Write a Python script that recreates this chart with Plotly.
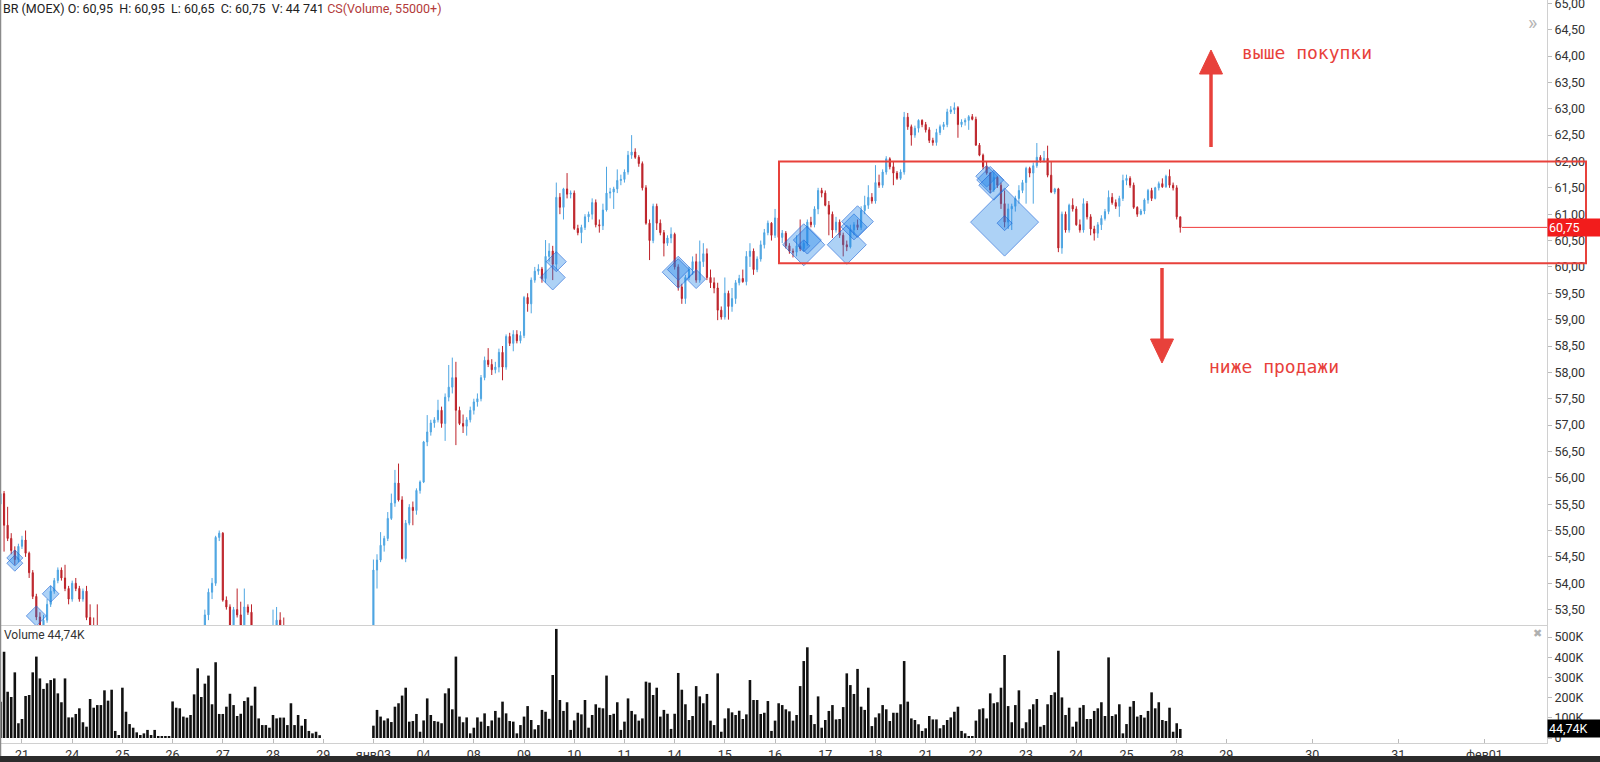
import plotly.graph_objects as go

W, H = 1600, 762

# ---- time axis -------------------------------------------------------------
day_labels = ["21", "24", "25", "26", "27", "28", "29", "янв03", "04", "08", "09", "10",
              "11", "14", "15", "16", "17", "18", "21", "22", "23", "24", "25", "28"]
future_labels = ["29", "30", "31", "фев01"]
future_ticks = [335.8, 359.8, 383.8, 407.8]  # empty future days, as TradingView spaces them

BARS_PER_DAY = 14  # hourly bars 10:00-23:50
# trading sessions: day slot, first hourly bar, number of bars (slot 6 = Dec 29, no bars)
session_slot = [-1, 0, 1, 2, 3, 4, 5, 7, 8, 9, 10, 11, 12, 13, 14, 15, 16, 17, 18, 19, 20, 21, 22, 23]
session_first = [8] + [0] * 23
session_len = [6] + [14] * 22 + [2]

# ---- BR (MOEX) hourly candles ------------------------------------------------
first_open = 55.50
closes = [
    55.70, 55.10, 54.85, 54.62, 54.45, 54.70,  # Dec 20
    54.82, 54.57, 54.20, 53.75, 53.36, 53.15, 53.30, 53.60, 53.85, 54.05, 54.25, 54.10, 53.90, 53.70,  # Dec 21
    54.00, 53.90, 53.70, 53.85, 53.35, 53.20, 53.10, 52.90, 52.60, 52.30, 52.00, 51.70, 51.30, 51.40,  # Dec 24
    51.50, 51.60, 51.40, 51.30, 51.50, 51.60, 51.50, 51.40, 51.50, 51.60, 51.50, 51.60, 51.70, 51.60,  # Dec 25
    51.60, 51.80, 51.70, 51.90, 52.00, 52.20, 52.30, 52.50, 52.90, 53.40, 53.83, 54.00, 54.87, 54.95,  # Dec 26
    53.68, 53.55, 53.20, 53.50, 53.40, 53.20, 53.55, 53.45, 53.10, 52.80, 52.60, 52.50, 52.70, 52.60,  # Dec 27
    53.15, 53.30, 53.00, 52.90, 52.80, 52.90, 52.70, 52.60, 52.80, 52.90, 53.00, 53.05, 53.10, 53.15,  # Dec 28
    54.25, 54.44, 54.72, 54.85, 55.23, 55.52, 55.90, 55.58, 54.47, 55.14, 55.44, 55.38, 55.76, 55.92,  # Jan 03
    56.68, 56.87, 57.04, 57.10, 57.28, 57.03, 57.53, 57.72, 57.90, 57.28, 57.03, 56.98, 57.10, 57.28,  # Jan 04
    57.44, 57.50, 57.90, 58.23, 58.15, 58.05, 58.10, 58.38, 58.10, 58.68, 58.55, 58.72, 58.60, 58.70,  # Jan 08
    59.42, 59.30, 59.75, 59.92, 59.96, 59.78, 60.20, 60.30, 60.05, 61.32, 61.13, 61.48, 61.38, 61.40,  # Jan 09
    60.73, 60.65, 60.75, 60.95, 61.00, 61.22, 60.80, 60.78, 61.08, 61.40, 61.42, 61.48, 61.64, 61.66,  # Jan 10
    61.80, 62.12, 62.18, 62.08, 61.96, 61.50, 60.83, 60.50, 61.15, 60.83, 60.65, 60.45, 60.55, 60.62,  # Jan 11
    60.00, 59.62, 59.40, 59.80, 59.95, 60.10, 59.75, 60.10, 60.25, 59.80, 59.70, 59.60, 59.18, 59.05,  # Jan 14
    59.50, 59.25, 59.40, 59.70, 59.78, 59.72, 60.20, 60.30, 59.95, 60.15, 60.42, 60.65, 60.83, 60.60,  # Jan 15
    60.93, 60.56, 60.64, 60.40, 60.30, 60.28, 60.40, 60.35, 60.45, 60.85, 60.80, 61.10, 61.45, 61.40,  # Jan 16
    61.17, 61.00, 60.70, 60.85, 60.60, 60.42, 60.38, 60.70, 60.80, 60.75, 61.07, 61.17, 61.32, 61.25,  # Jan 17
    61.60, 61.55, 61.80, 62.05, 61.90, 61.78, 61.68, 61.80, 62.84, 62.66, 62.50, 62.63, 62.78, 62.70,  # Jan 18
    62.60, 62.40, 62.36, 62.55, 62.66, 62.70, 62.94, 62.98, 63.02, 62.70, 62.75, 62.78, 62.85, 62.80,  # Jan 21
    62.31, 62.12, 61.90, 61.78, 61.46, 61.70, 61.55, 61.20, 60.85, 61.10, 61.15, 61.30, 61.45, 61.60,  # Jan 22
    61.87, 61.78, 61.92, 62.08, 62.02, 62.06, 61.74, 61.42, 61.48, 60.36, 61.00, 60.70, 61.17, 61.10,  # Jan 23
    60.80, 60.70, 61.20, 60.95, 60.72, 60.64, 60.80, 60.92, 61.05, 61.32, 61.22, 61.15, 61.30, 61.64,  # Jan 24
    61.68, 61.55, 61.13, 61.00, 61.06, 61.27, 61.45, 61.30, 61.50, 61.58, 61.52, 61.72, 61.55, 61.50,  # Jan 25
    60.95, 60.75,  # Jan 28
]
highs = [
    55.80, 55.75, 55.45, 54.95, 54.70, 54.75,
    54.90, 55.00, 54.60, 54.25, 53.80, 53.45, 53.40, 53.70, 53.95, 54.10, 54.30, 54.30, 54.35, 53.95,
    54.05, 54.10, 53.95, 53.90, 53.95, 53.60, 53.35, 53.60, 53.00, 52.70, 52.40, 52.10, 51.80, 51.50,
    51.65, 51.70, 51.65, 51.45, 51.60, 51.70, 51.65, 51.55, 51.60, 51.70, 51.65, 51.70, 51.80, 51.75,
    51.75, 51.95, 51.90, 52.00, 52.10, 52.30, 52.45, 52.65, 53.00, 53.50, 53.90, 54.10, 54.90, 55.00,
    54.97, 53.75, 53.60, 53.55, 53.90, 53.65, 53.90, 53.60, 53.60, 53.20, 52.90, 52.70, 52.80, 52.75,
    53.50, 53.55, 53.45, 53.35, 53.00, 53.05, 52.95, 52.80, 52.90, 53.00, 53.10, 53.15, 53.18, 53.20,
    54.45, 54.55, 54.97, 54.90, 55.35, 55.70, 56.15, 56.27, 55.65, 55.20, 55.50, 55.55, 55.80, 55.95,
    56.70, 57.19, 57.10, 57.15, 57.48, 57.35, 57.60, 58.14, 58.28, 58.20, 57.35, 57.20, 57.15, 57.35,
    57.50, 57.60, 57.95, 58.30, 58.46, 58.25, 58.20, 58.45, 58.50, 58.72, 58.75, 58.80, 58.80, 58.78,
    59.45, 59.50, 59.80, 60.00, 60.05, 60.00, 60.51, 60.45, 60.40, 61.60, 61.40, 61.50, 61.78, 61.45,
    61.45, 60.80, 60.80, 61.00, 61.05, 61.30, 61.28, 60.90, 61.20, 61.90, 61.50, 61.52, 61.85, 61.75,
    61.85, 62.20, 62.50, 62.25, 62.12, 62.00, 61.55, 60.90, 61.20, 61.20, 60.90, 60.70, 60.60, 60.75,
    60.65, 60.05, 59.68, 59.85, 60.00, 60.20, 60.25, 60.50, 60.45, 60.35, 59.95, 59.80, 59.70, 59.25,
    59.80, 59.55, 59.60, 59.75, 59.85, 59.95, 60.30, 60.45, 60.35, 60.20, 60.50, 60.72, 60.88, 60.85,
    61.10, 61.15, 60.70, 60.68, 60.45, 60.35, 60.60, 60.90, 60.50, 60.90, 60.95, 61.15, 61.50, 61.50,
    61.45, 61.25, 61.05, 60.95, 60.90, 60.65, 60.50, 60.80, 60.85, 60.90, 61.15, 61.35, 61.55, 61.40,
    61.93, 61.75, 61.85, 62.10, 62.08, 62.00, 61.82, 61.85, 62.94, 62.92, 62.70, 62.68, 62.80, 62.80,
    62.75, 62.65, 62.45, 62.62, 62.70, 62.75, 63.00, 63.05, 63.12, 63.05, 62.80, 62.82, 62.88, 62.90,
    62.85, 62.35, 62.15, 62.00, 61.80, 61.80, 61.72, 61.60, 61.45, 61.20, 61.20, 61.35, 61.55, 61.65,
    61.90, 61.90, 61.98, 62.35, 62.12, 62.20, 62.30, 61.99, 61.50, 61.50, 61.05, 61.05, 61.20, 61.30,
    61.15, 60.90, 61.30, 61.25, 61.00, 60.78, 60.85, 60.98, 61.10, 61.45, 61.40, 61.28, 61.35, 61.75,
    61.75, 61.72, 61.60, 61.15, 61.10, 61.30, 61.48, 61.50, 61.52, 61.62, 61.68, 61.75, 61.85, 61.60,
    61.55, 60.95,
]
lows = [
    55.40, 54.60, 54.80, 54.55, 54.35, 54.40,
    54.65, 54.50, 54.10, 53.70, 53.30, 53.00, 53.05, 53.25, 53.55, 53.80, 54.00, 54.05, 53.85, 53.60,
    53.65, 53.85, 53.65, 53.65, 53.30, 53.10, 53.00, 52.80, 52.50, 52.20, 51.90, 51.60, 51.20, 51.10,
    51.30, 51.45, 51.35, 51.20, 51.25, 51.45, 51.40, 51.30, 51.35, 51.45, 51.40, 51.45, 51.55, 51.50,
    51.45, 51.55, 51.60, 51.65, 51.85, 51.95, 52.10, 52.25, 52.45, 52.80, 53.30, 53.70, 53.95, 54.80,
    53.65, 53.50, 53.10, 53.10, 53.35, 53.10, 53.15, 53.40, 53.00, 52.70, 52.50, 52.40, 52.45, 52.50,
    52.55, 53.05, 52.90, 52.80, 52.70, 52.75, 52.60, 52.50, 52.55, 52.75, 52.85, 52.95, 53.00, 53.05,
    53.10, 53.90, 54.40, 54.60, 54.80, 55.20, 55.45, 55.55, 54.45, 54.40, 55.10, 55.10, 55.30, 55.70,
    55.90, 56.60, 56.80, 56.95, 57.05, 56.95, 56.70, 57.45, 57.60, 56.62, 57.00, 56.85, 56.80, 57.05,
    57.20, 57.35, 57.45, 57.85, 58.10, 57.95, 57.98, 58.00, 57.85, 58.05, 58.50, 58.40, 58.55, 58.55,
    58.65, 59.15, 59.12, 59.70, 59.85, 59.70, 59.70, 60.10, 59.75, 59.95, 61.00, 60.90, 61.30, 61.30,
    60.70, 60.60, 60.45, 60.70, 60.85, 60.90, 60.75, 60.65, 60.70, 61.05, 61.30, 61.10, 61.40, 61.55,
    61.60, 61.75, 62.05, 62.05, 61.90, 61.45, 60.80, 60.13, 60.45, 60.70, 60.60, 60.20, 60.40, 60.45,
    59.95, 59.55, 59.30, 59.30, 59.75, 59.85, 59.70, 59.70, 60.00, 59.75, 59.60, 59.50, 58.99, 59.00,
    59.00, 59.00, 59.15, 59.30, 59.65, 59.70, 59.65, 60.00, 59.85, 59.90, 60.10, 60.35, 60.60, 60.50,
    60.55, 60.55, 60.45, 60.35, 60.25, 60.18, 60.20, 60.30, 60.30, 60.40, 60.75, 60.75, 61.00, 61.32,
    61.15, 60.60, 60.55, 60.65, 60.55, 60.20, 60.30, 60.35, 60.60, 60.70, 60.70, 61.00, 61.10, 61.20,
    61.20, 61.50, 61.50, 61.75, 61.85, 61.55, 61.65, 61.65, 61.75, 62.60, 62.30, 62.45, 62.55, 62.65,
    62.55, 62.35, 62.30, 62.30, 62.50, 62.60, 62.65, 62.90, 62.90, 62.45, 62.65, 62.68, 62.60, 62.78,
    62.30, 62.10, 61.85, 61.75, 61.40, 61.42, 61.50, 61.10, 60.75, 60.72, 60.70, 61.05, 61.20, 61.40,
    61.20, 61.70, 61.20, 61.88, 61.98, 61.98, 61.70, 61.40, 61.38, 60.28, 60.25, 60.65, 60.65, 61.05,
    60.78, 60.65, 60.65, 60.90, 60.60, 60.50, 60.55, 60.70, 60.88, 61.00, 61.18, 61.10, 60.95, 61.25,
    61.55, 61.50, 61.10, 60.95, 60.98, 61.00, 61.20, 61.25, 61.28, 61.45, 61.50, 61.50, 61.50, 61.45,
    60.90, 60.65,
]
volumes_k = [
    180, 427, 229, 203, 325, 73,
    94, 208, 213, 325, 403, 295, 243, 271, 287, 295, 221, 177, 295, 102,
    102, 119, 147, 78, 56, 193, 150, 163, 163, 236, 185, 239, 35, 15,
    249, 130, 69, 51, 28, 15, 23, 40, 15, 40, 10, 8, 8, 5,
    181, 150, 147, 106, 101, 114, 216, 345, 203, 269, 309, 167, 375, 119,
    119, 155, 219, 163, 109, 120, 183, 201, 160, 254, 97, 64, 64, 51,
    114, 97, 101, 101, 64, 172, 64, 114, 61, 94, 35, 23, 31, 14,
    61, 139, 106, 87, 97, 79, 155, 172, 210, 249, 81, 84, 119, 31,
    87, 196, 114, 84, 81, 73, 221, 246, 142, 403, 106, 78, 102, 23,
    51, 102, 81, 122, 59, 87, 134, 101, 180, 122, 84, 81, 23, 64,
    106, 158, 89, 43, 64, 139, 130, 95, 312, 540, 188, 134, 177, 40,
    87, 125, 117, 188, 51, 114, 167, 150, 147, 309, 114, 120, 177, 40,
    81, 196, 134, 117, 86, 97, 279, 274, 213, 249, 106, 139, 120, 45,
    120, 322, 239, 167, 89, 109, 257, 206, 172, 218, 86, 64, 320, 31,
    97, 147, 127, 114, 135, 94, 117, 287, 188, 188, 119, 125, 183, 35,
    86, 172, 163, 142, 132, 86, 114, 257, 381, 449, 114, 69, 206, 51,
    89, 134, 163, 92, 94, 153, 320, 262, 218, 342, 155, 139, 249, 59,
    102, 122, 163, 142, 84, 125, 125, 167, 381, 180, 97, 89, 68, 35,
    48, 109, 92, 92, 48, 64, 89, 102, 130, 155, 35, 23, 8, 8,
    86, 142, 147, 97, 221, 172, 177, 249, 411, 158, 78, 163, 236, 48,
    78, 142, 167, 193, 56, 64, 167, 213, 226, 432, 201, 114, 150, 56,
    81, 150, 163, 94, 94, 134, 147, 177, 109, 399, 109, 117, 167, 23,
    69, 155, 183, 106, 114, 101, 134, 226, 147, 177, 89, 84, 150, 31,
    73, 44.74,
]

# ---- CS(Volume, 55000+) clusters -------------------------------------------
cs_slot = [-1, -1, 0, 0, 10, 10, 13, 13, 13, 15, 15, 15, 16, 16, 16, 19, 19, 19, 19, 19]
cs_bar = [12, 12, 4, 8, 8, 9, 1, 1, 6, 8, 9, 8, 6, 8, 9, 3, 4, 5, 8, 8]
cs_price = [54.48, 54.38, 53.38, 53.80, 59.80, 60.10, 59.90, 59.95, 59.77, 60.42, 60.51, 60.40,
            60.42, 60.76, 60.86, 61.72, 61.65, 61.55, 60.85, 60.83]
cs_volume_k = [96, 96, 120, 100, 150, 120, 192, 130, 114, 252, 168, 72, 234, 156, 190, 130, 162, 180, 408, 90]

# box drawn on the chart: the range the price is stuck in
range_top, range_bottom = 62.00, 60.07

# ---- build -----------------------------------------------------------------
bar_x = []
for slot, first, n in zip(session_slot, session_first, session_len):
    bar_x += [slot * BARS_PER_DAY + first + k for k in range(n)]
opens = [first_open] + closes[:-1]

UP, DOWN = "#4fa6e2", "#bd2229"
X_END = 1547 / W
PRICE_BOTTOM = (H - 625) / H
VOL_BOTTOM = (H - 743) / H
x_lo, x_hi = -6.13, 425.26


def px(x):
    return x / W


def py(y):
    return 1 - y / H


def comma(v, fmt="{:.2f}"):
    return fmt.format(v).replace(".", ",")


fig = go.Figure()
fig.add_trace(go.Candlestick(
    x=bar_x, open=opens, high=highs, low=lows, close=closes,
    xaxis="x2", yaxis="y",
    increasing=dict(line=dict(color=UP, width=1), fillcolor=UP),
    decreasing=dict(line=dict(color=DOWN, width=1), fillcolor=DOWN),
    whiskerwidth=0, hoverinfo="skip",
))
fig.add_trace(go.Scatter(
    x=[s * BARS_PER_DAY + b for s, b in zip(cs_slot, cs_bar)], y=cs_price,
    xaxis="x2", yaxis="y", mode="markers", hoverinfo="skip",
    marker=dict(symbol="diamond", size=[v / 7.8 for v in cs_volume_k],
                color="rgba(33,132,232,0.52)", line=dict(color="rgba(25,100,215,0.9)", width=1)),
))
fig.add_trace(go.Bar(
    x=bar_x, y=volumes_k, xaxis="x", yaxis="y2", width=0.72,
    marker=dict(color="#111111", line=dict(width=0)), hoverinfo="skip",
))

day_ticks = [s * BARS_PER_DAY for s in range(len(day_labels))]
price_ticks = [53.5 + 0.5 * i for i in range(24)]
vol_ticks = [0, 100, 200, 300, 400, 500]

axis_common = dict(showgrid=False, zeroline=False, showline=True, linecolor="#d0d0d0", linewidth=1,
                   automargin=False)
fig.update_layout(
    width=W, height=H, margin=dict(l=0, r=0, t=0, b=0, autoexpand=False),
    paper_bgcolor="white", plot_bgcolor="white", showlegend=False, boxgap=0.55,
    font=dict(family="Roboto, sans-serif", size=12, color="#333333"),
    xaxis=dict(domain=[0, X_END], anchor="y2", range=[x_lo, x_hi],
               tickvals=day_ticks + future_ticks, ticktext=day_labels + future_labels,
               ticks="inside", ticklen=4, tickcolor="#bbbbbb", tickfont=dict(size=12.5),
               rangeslider=dict(visible=False), **axis_common),
    xaxis2=dict(domain=[0, X_END], anchor="y", matches="x", showticklabels=False, ticks="",
                rangeslider=dict(visible=False), **axis_common),
    yaxis=dict(domain=[PRICE_BOTTOM, 1], anchor="x2", side="right", range=[53.208, 65.063],
               tickvals=price_ticks, ticktext=[comma(v) for v in price_ticks],
               ticks="outside", ticklen=4, tickcolor="#bbbbbb", tickfont=dict(size=12.5),
               ticklabeloverflow="allow", **axis_common),
    yaxis2=dict(domain=[VOL_BOTTOM, PRICE_BOTTOM], anchor="x", side="right", range=[-24.75, 559.4],
                tickvals=vol_ticks, ticktext=["0"] + [f"{v}K" for v in vol_ticks[1:]],
                ticks="outside", ticklen=4, tickcolor="#bbbbbb", tickfont=dict(size=12.5),
                ticklabeloverflow="allow", **axis_common),
)

RED = "#e8413b"
shapes = [
    # range box, it runs over the price scale
    dict(type="rect", xref="paper", yref="y", x0=px(779), x1=px(1586), y0=range_bottom, y1=range_top,
         line=dict(color=RED, width=2), fillcolor="rgba(0,0,0,0)"),
    # last price line
    dict(type="line", xref="x2", yref="y", x0=bar_x[-1] + 0.5, x1=x_hi, y0=closes[-1], y1=closes[-1],
         line=dict(color="#f03a3a", width=1)),
    # arrows
    dict(type="line", xref="paper", yref="paper", x0=px(1211), x1=px(1211), y0=py(147), y1=py(70),
         line=dict(color=RED, width=3.5)),
    dict(type="path", xref="paper", yref="paper", fillcolor=RED, line=dict(color=RED, width=1),
         path=f"M {px(1199.5)},{py(74)} L {px(1211)},{py(50)} L {px(1222.5)},{py(74)} Z"),
    dict(type="line", xref="paper", yref="paper", x0=px(1162), x1=px(1162), y0=py(268), y1=py(342),
         line=dict(color=RED, width=3.5)),
    dict(type="path", xref="paper", yref="paper", fillcolor=RED, line=dict(color=RED, width=1),
         path=f"M {px(1150.5)},{py(339)} L {px(1162)},{py(363)} L {px(1173.5)},{py(339)} Z"),
    # window frame bits
    dict(type="line", xref="paper", yref="paper", x0=px(0.5), x1=px(0.5), y0=py(0), y1=py(756),
         line=dict(color="#8a8a8a", width=1.5)),
    dict(type="rect", xref="paper", yref="paper", x0=0, x1=1, y0=0, y1=py(756),
         line=dict(width=0), fillcolor="#2c2c2c"),
]
fig.update_layout(shapes=shapes)

nb = "&nbsp;"
title = (f"BR (MOEX) O: {comma(opens[-1])}{nb} H: {comma(highs[-1])}{nb} L: {comma(lows[-1])}{nb} "
         f"C: {comma(closes[-1])}{nb} V: 44 741 <span style='color:#b23a3a'>CS(Volume, 55000+)</span>")


def note(x, y, text, xanchor="center", **kw):
    return dict(xref="paper", yref="paper", x=px(x), y=py(y), xanchor=xanchor, yanchor="middle",
                text=text, showarrow=False, **kw)


annotations = [
    note(1, 8, title, xanchor="left", align="left", font=dict(size=12.5, color="#222222")),
    note(2, 635, f"Volume {comma(volumes_k[-1])}K", xanchor="left", font=dict(size=12, color="#333333")),
    note(1532, 23, "»", font=dict(size=20, color="#b5b5b5")),
    note(1537, 633, "✖", font=dict(family="DejaVu Sans", size=11, color="#b0b0b0")),
    note(1307, 52, "выше покупки", font=dict(family="DejaVu Sans Mono", size=18, color=RED)),
    note(1274, 367, "ниже продажи", font=dict(family="DejaVu Sans Mono", size=18, color=RED)),
    dict(xref="paper", yref="y", x=X_END, y=closes[-1], xanchor="left", yanchor="middle",
         text=comma(closes[-1]), showarrow=False, bgcolor="#f21c1c", width=50, align="left",
         borderpad=1, font=dict(size=12.5, color="white")),
    dict(xref="paper", yref="y2", x=X_END, y=volumes_k[-1], xanchor="left", yanchor="middle",
         text=f"{comma(volumes_k[-1])}K", showarrow=False, bgcolor="#000000", width=50, align="left",
         borderpad=1, font=dict(size=12.5, color="white")),
]
fig.update_layout(annotations=annotations)

# the page body has an 8px default margin; drop it so the chart sits at the window corner
fig.write_html("out.html", config={"displayModeBar": False},
               post_script="document.body.style.margin='0';document.body.style.overflow='hidden';")
